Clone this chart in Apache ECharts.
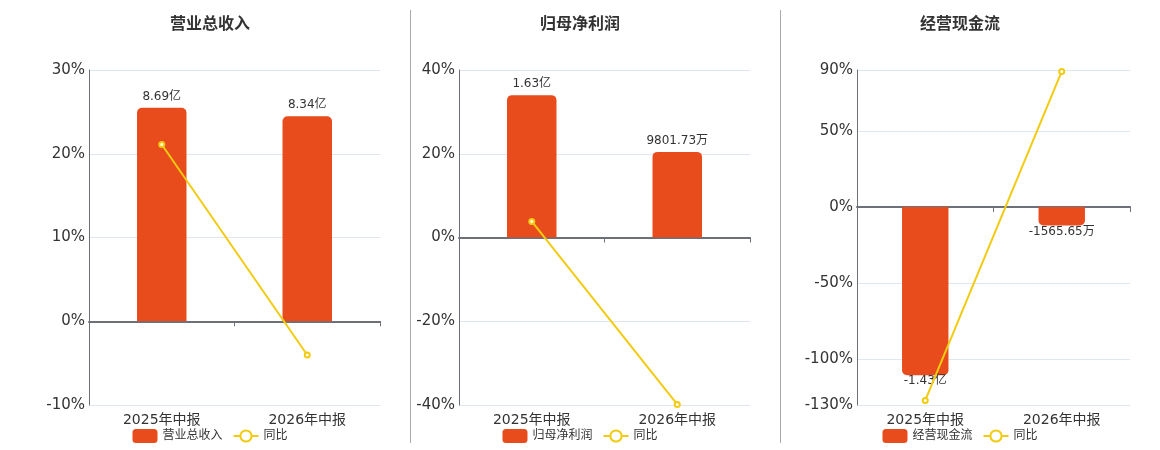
<!DOCTYPE html>
<html lang="zh">
<head>
    <meta charset="UTF-8">
    <title>财务指标</title>
    <style type="text/css">
        body{
            margin:0;
            background-color:#fff;
        }
        .box{
            position:absolute;
            top:0;
            width:380px;
            height:450px;
        }
        .sep{
            position:absolute;
            top:10px;
            width:1px;
            height:433px;
            background-color:#aaaaaa;
        }
    </style>
</head>
<body>
<div id="rev" class="box" style="left:20px"></div>
<div id="profit" class="box" style="left:390px"></div>
<div id="cash" class="box" style="left:770px"></div>
<div class="sep" style="left:410px"></div>
<div class="sep" style="left:780px"></div>
</body>
<script src="https://cdn.jsdelivr.net/npm/echarts@6/dist/echarts.min.js"></script>

<script type="text/javascript">
    // 报告期
    var periods = ['2025年中报', '2026年中报'];

    // 金额（亿元）
    var revenue = [8.69, 8.34];
    var netProfit = [1.63, 0.980173];
    var cashFlow = [-1.43, -0.156565];

    // 同比（%）
    var revenueYoy = [21.1, -4.03];
    var netProfitYoy = [3.83, -39.87];
    var cashFlowYoy = [-127, 89.05];

    // 左轴刻度
    var revenueTicks = [-10, 0, 10, 20, 30];
    var netProfitTicks = [-40, -20, 0, 20, 40];
    var cashFlowTicks = [-130, -100, -50, 0, 50, 90];

    var FONT = "'DejaVu Sans', 'Noto Sans CJK SC', sans-serif";
    var BAR_COLOR = '#E84B1C';
    var LINE_COLOR = '#F2CB11';

    function fmtMoney(v){
        if (Math.abs(v) >= 1) return v.toFixed(2) + '亿';
        return (v * 10000).toFixed(2) + '万';
    }

    function makeChart(id, name, bars, yoy, ticks, gridLeft){
        var pMin = ticks[0], pMax = ticks[ticks.length - 1];
        var maxAbs = 0, side = pMax;
        bars.forEach(function(v){
            if (Math.abs(v) > maxAbs){ maxAbs = Math.abs(v); side = v < 0 ? -pMin : pMax; }
        });
        var k = maxAbs / 0.85 / side;

        var chart = echarts.init(document.getElementById(id));
        chart.setOption({
            title: {
                text: name,
                left: 'center',
                top: 12,
                textStyle: { fontSize: 16, fontWeight: 'bold', color: '#333', fontFamily: FONT }
            },
            legend: {
                bottom: 2,
                left: 'center',
                itemWidth: 25,
                itemHeight: 14,
                itemGap: 10,
                textStyle: { fontSize: 12, color: '#333', fontFamily: FONT },
                data: [{ name: name, icon: 'roundRect' }, { name: '同比' }]
            },
            grid: { left: gridLeft, right: 20, top: 70, bottom: 45 },
            xAxis: [
                {
                    type: 'category',
                    data: periods,
                    position: 'bottom',
                    axisLine: { show: false },
                    axisTick: { show: false },
                    axisLabel: { fontSize: 14, color: '#333', fontFamily: FONT, margin: 8 }
                },
                {
                    type: 'category',
                    data: periods,
                    position: 'bottom',
                    axisLine: { show: true, onZero: true, onZeroAxisIndex: 0, lineStyle: { color: '#6E7079', width: 2 } },
                    axisTick: { show: true, inside: false, length: 5, lineStyle: { color: '#6E7079' } },
                    axisLabel: { show: false }
                }
            ],
            yAxis: [
                {
                    type: 'value',
                    min: pMin,
                    max: pMax,
                    axisLine: { show: true, lineStyle: { color: '#6E7079' } },
                    axisTick: { show: false, customValues: ticks },
                    axisLabel: {
                        customValues: ticks,
                        fontSize: 15,
                        color: '#333',
                        fontFamily: FONT,
                        margin: 4,
                        padding: [3, 0, 0, 0],
                        formatter: '{value}%'
                    },
                    splitLine: { show: true, lineStyle: { color: '#E0E6F1' } }
                },
                {
                    type: 'value',
                    min: pMin * k,
                    max: pMax * k,
                    show: false,
                    splitLine: { show: false }
                }
            ],
            series: [
                {
                    name: name,
                    type: 'bar',
                    yAxisIndex: 1,
                    barWidth: '34%',
                    data: bars.map(function(v){
                        return {
                            value: v,
                            itemStyle: { borderRadius: v < 0 ? [0, 0, 5, 5] : [5, 5, 0, 0] },
                            label: { position: v < 0 ? 'bottom' : 'top', distance: v < 0 ? 0 : 5 }
                        };
                    }),
                    itemStyle: { color: BAR_COLOR },
                    label: {
                        show: true,
                        fontSize: 12,
                        color: '#333',
                        fontFamily: FONT,
                        formatter: function(p){ return fmtMoney(p.value); }
                    }
                },
                {
                    name: '同比',
                    type: 'line',
                    yAxisIndex: 0,
                    data: yoy,
                    symbol: 'emptyCircle',
                    symbolSize: 5,
                    lineStyle: { color: LINE_COLOR, width: 2 },
                    itemStyle: { color: LINE_COLOR }
                }
            ]
        });
        return chart;
    }

    makeChart('rev', '营业总收入', revenue, revenueYoy, revenueTicks, 69);
    makeChart('profit', '归母净利润', netProfit, netProfitYoy, netProfitTicks, 69);
    makeChart('cash', '经营现金流', cashFlow, cashFlowYoy, cashFlowTicks, 87);
</script>

</html>
